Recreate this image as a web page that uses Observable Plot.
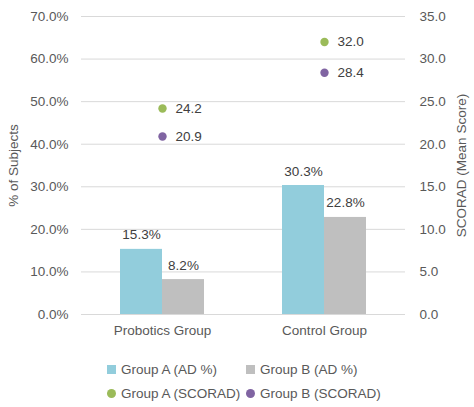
<!DOCTYPE html>
<html>
<head>
<meta charset="utf-8">
<script src="https://cdn.jsdelivr.net/npm/d3@7"></script>
<script src="https://cdn.jsdelivr.net/npm/@observablehq/plot@0.6"></script>
<style>
  body { margin: 0; background: #fff; font-family: "Liberation Sans", Arial, sans-serif; }
  #chart svg { display: block; }
  .legend { display: grid; grid-template-columns: 139px 160px; grid-auto-rows: 24px; margin-left: 107px; padding-top: 12px; color: #595959; font-size: 13.5px; }
  .item { display: flex; align-items: center; white-space: nowrap; }
  .sw { width: 9px; height: 9px; margin-right: 5px; flex: none; }
  .dotsw { border-radius: 50%; }
</style>
</head>
<body>
<div id="chart"></div>
<script>
const groups = ["Probotics Group", "Control Group"];
const barSeries = ["Group A (AD %)", "Group B (AD %)"];
const dotSeries = ["Group A (SCORAD)", "Group B (SCORAD)"];
const adA = [15.3, 30.3];
const adB = [8.2, 22.8];
const scoradA = [24.2, 32.0];
const scoradB = [20.9, 28.4];
const leftTicks = [0, 10, 20, 30, 40, 50, 60, 70];
const rightTicks = [0, 5, 10, 15, 20, 25, 30, 35];
const barColors = ["#92cddc", "#bfbfbf"];
const dotColors = ["#9bbb59", "#8064a2"];

const bars = [];
groups.forEach((g, i) => {
  bars.push({group: g, series: barSeries[0], value: adA[i]});
  bars.push({group: g, series: barSeries[1], value: adB[i]});
});
const dots = [];
groups.forEach((g, i) => {
  dots.push({group: g, series: dotSeries[0], value: scoradA[i]});
  dots.push({group: g, series: dotSeries[1], value: scoradB[i]});
});
// right axis (SCORAD 0–35) shares the frame with left axis (0–70%): factor 2
const k = 70 / 35;

const chart = Plot.plot({
  width: 474,
  height: 345,
  marginLeft: 81,
  marginRight: 69,
  marginTop: 16,
  marginBottom: 31,
  style: {fontFamily: "'Liberation Sans', Arial, sans-serif", fontSize: "13.5px", color: "#595959", background: "#fff"},
  fx: {domain: groups, padding: 0, label: null},
  x: {domain: barSeries, paddingInner: 0, paddingOuter: 0.906, axis: null},
  y: {domain: [0, 70], axis: null},
  marks: [
    Plot.gridY(leftTicks, {stroke: "#d9d9d9", strokeOpacity: 1}),
    Plot.axisY(leftTicks, {anchor: "left", tickSize: 0, tickPadding: 13, tickFormat: d => d.toFixed(1) + "%",
      label: "% of Subjects", labelAnchor: "center", labelArrow: "none", labelOffset: 73, fill: "#595959"}),
    Plot.axisY(rightTicks.map(d => d * k), {anchor: "right", tickSize: 0, tickPadding: 14, tickFormat: d => (d / k).toFixed(1),
      label: "SCORAD (Mean Score)", labelAnchor: "center", labelArrow: "none", labelOffset: 60, fill: "#595959"}),
    Plot.axisFx({anchor: "bottom", tickSize: 0, tickPadding: 11, label: null, fill: "#595959"}),
    Plot.barY(bars, {fx: "group", x: "series", y: "value", fill: d => barColors[barSeries.indexOf(d.series)]}),
    Plot.ruleY([0], {stroke: "#d9d9d9"}),
    Plot.text(bars, {fx: "group", x: "series", y: "value", text: d => d.value.toFixed(1) + "%", lineAnchor: "bottom", dy: -10, fill: "#404040"}),
    Plot.dot(dots, {fx: "group", y: d => d.value * k, r: 4.2, fill: d => dotColors[dotSeries.indexOf(d.series)], stroke: null}),
    Plot.text(dots, {fx: "group", y: d => d.value * k, text: d => d.value.toFixed(1), textAnchor: "start", dx: 13, fill: "#404040"})
  ]
});
document.getElementById("chart").appendChild(chart);

const legend = document.createElement("div");
legend.className = "legend";
const items = [
  [barSeries[0], barColors[0], false],
  [barSeries[1], barColors[1], false],
  [dotSeries[0], dotColors[0], true],
  [dotSeries[1], dotColors[1], true]
];
for (const [label, color, round] of items) {
  const it = document.createElement("div");
  it.className = "item";
  const sw = document.createElement("span");
  sw.className = "sw" + (round ? " dotsw" : "");
  sw.style.background = color;
  it.appendChild(sw);
  it.appendChild(document.createTextNode(label));
  legend.appendChild(it);
}
document.body.appendChild(legend);
</script>
</body>
</html>
